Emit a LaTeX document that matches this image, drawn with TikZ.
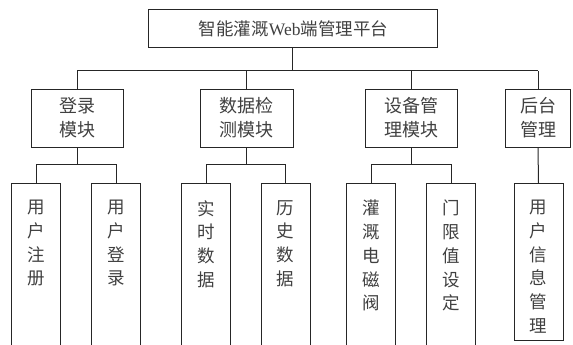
\documentclass[tikz,border=0pt]{standalone}
\usepackage{fontspec}
\setmainfont{Noto Sans CJK SC}
\newfontfamily\latserif{Liberation Serif}
\begin{document}
\begin{tikzpicture}[x=1pt,y=-1pt,
  line/.style={draw=black!85,line width=1pt},
  box/.style={line,rectangle,inner sep=0pt},
  ttxt/.style={text=black!75,font=\fontsize{17.5}{24}\selectfont,align=center,inner sep=0pt},
  txt/.style={text=black!75,font=\fontsize{18}{24}\selectfont,align=center,inner sep=0pt},
  vtxt/.style={text=black!75,font=\fontsize{17.5}{23.7}\selectfont,align=center,inner sep=0pt,anchor=north}
]
\useasboundingbox (0,0) rectangle (573,345);
\clip (0,0) rectangle (573,345);
% top
\node[box,minimum width=289pt,minimum height=38pt] (top) at (292.5,29) {};
\node[ttxt] (toptxt) at ([xshift=1pt]top.center) {智能灌溉{\latserif Web}端管理平台};
% level 2
\node[box,minimum width=92pt,minimum height=58pt] (b1) at (77,118) {};
\node[box,minimum width=93pt,minimum height=58pt] (b2) at (246.5,118) {};
\node[box,minimum width=92pt,minimum height=58pt] (b3) at (411,118) {};
\node[box,minimum width=65pt,minimum height=58pt] (b4) at (538,118) {};
\node[txt] (t1) at (b1.center) {登录\\模块};
\node[txt] (t2) at (b2.center) {数据检\\测模块};
\node[txt] (t3) at (b3.center) {设备管\\理模块};
\node[txt] (t4) at (b4.center) {后台\\管理};
% level 3
\foreach \n/\x in {a/36,b/116,c/206,d/285.5,e/371,f/451}{
  \node[box,anchor=north,minimum width=49pt,minimum height=180pt] (\n) at (\x,183) {};
}
\node[box,anchor=north,minimum width=49pt,minimum height=157pt] (g) at (538.5,183) {};
\node[vtxt] (ta) at ([yshift=-17pt]a.north) {用\\户\\注\\册};
\node[vtxt] (tb) at ([yshift=-17pt]b.north) {用\\户\\登\\录};
\node[vtxt] (tc) at ([yshift=-17pt]c.north) {实\\时\\数\\据};
\node[vtxt] (td) at ([yshift=-17pt]d.north) {历\\史\\数\\据};
\node[vtxt] (te) at ([yshift=-17pt]e.north) {灌\\溉\\电\\磁\\阀};
\node[vtxt] (tf) at ([yshift=-17pt]f.north) {门\\限\\值\\设\\定};
\node[vtxt] (tg) at ([yshift=-17pt]g.north) {用\\户\\信\\息\\管\\理};
% connectors
\coordinate (bus) at (0,71);
\coordinate (sub) at (0,164);
\draw[line] (top.south) -- (top.south |- bus);
\draw[line] (b1.north |- bus) -- (b4.north |- bus);
\foreach \n in {b1,b2,b3,b4}{\draw[line] (\n.north) -- (\n.north |- bus);}
\draw[line] (b1.south) -- (b1.south |- sub);
\draw[line] (b2.south) -- (b2.south |- sub);
\draw[line] (b3.south) -- (b3.south |- sub);
\draw[line] (a.north |- sub) -- (b.north |- sub);
\draw[line] (c.north |- sub) -- (d.north |- sub);
\draw[line] (e.north |- sub) -- (f.north |- sub);
\foreach \n in {a,b,c,d,e,f}{\draw[line] (\n.north) -- (\n.north |- sub);}
\draw[line] (b4.south) -- (g.north);
\end{tikzpicture}
\end{document}
